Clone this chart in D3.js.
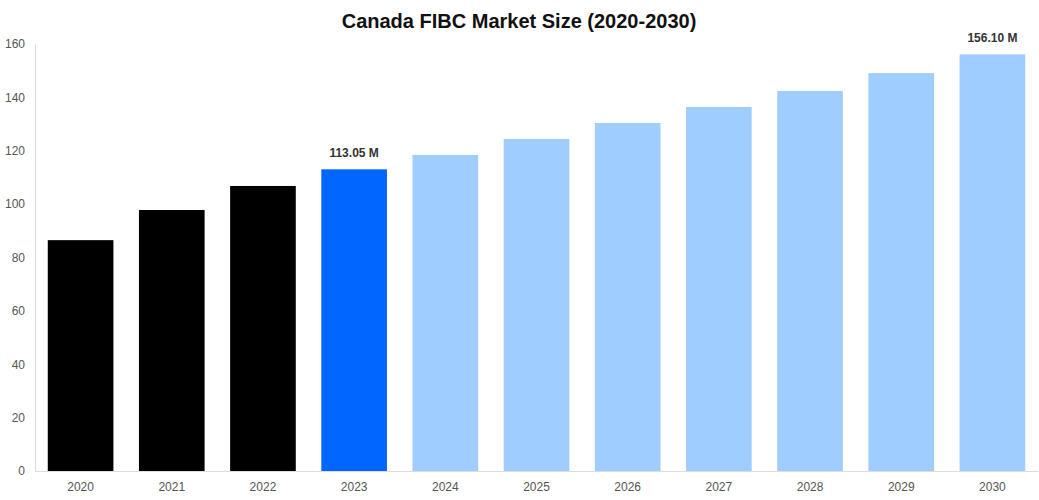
<!DOCTYPE html>
<html><head><meta charset="utf-8">
<script src="https://cdn.jsdelivr.net/npm/d3@7/dist/d3.min.js"></script>
<style>body{margin:0;background:#fff;font-family:"Liberation Sans",Arial,sans-serif}</style>
</head><body><svg id="c" width="1039" height="500"></svg>
<script>
const years=["2020","2021","2022","2023","2024","2025","2026","2027","2028","2029","2030"];
const values=[86.5,97.8,106.8,113.05,118.4,124.4,130.4,136.4,142.4,149.1,156.1];
const colors=["#000000","#000000","#000000","#0066ff","#a0cdff","#a0cdff","#a0cdff","#a0cdff","#a0cdff","#a0cdff","#a0cdff"];
const labels={"2023":"113.05 M","2030":"156.10 M"};
const yTicks=[0,20,40,60,80,100,120,140,160];
const svg=d3.select("#c");
const m={l:35,r:1,t:44,b:29};
const W=1039,H=500;
const x=d3.scaleBand().domain(years).range([m.l,W-m.r]).paddingInner(0.28).paddingOuter(0.14);
const y=d3.scaleLinear().domain([0,160]).range([H-m.b,m.t]);
svg.append("text").attr("x",519).attr("y",28).attr("text-anchor","middle").attr("font-size",20).attr("font-weight","bold").attr("fill","#111").text("Canada FIBC Market Size (2020-2030)");
const ya=svg.append("g").attr("transform",`translate(${m.l},0)`).call(d3.axisLeft(y).tickValues(yTicks).tickSize(0).tickPadding(10));
ya.select(".domain").attr("stroke","#ddd");
ya.selectAll("text").attr("font-size",12).attr("fill","#555").attr("font-family","Liberation Sans,Arial");
const xa=svg.append("g").attr("transform",`translate(0,${H-m.b})`).call(d3.axisBottom(x).tickSize(0).tickPadding(11));
xa.select(".domain").attr("stroke","#ddd");
xa.selectAll("text").attr("font-size",12).attr("fill","#555").attr("font-family","Liberation Sans,Arial");
svg.selectAll("rect.b").data(years).enter().append("rect").attr("x",d=>x(d)).attr("width",x.bandwidth())
 .attr("y",(d,i)=>y(values[i])).attr("height",(d,i)=>y(0)-y(values[i])).attr("fill",(d,i)=>colors[i]);
svg.selectAll("text.l").data(years.filter(d=>labels[d])).enter().append("text")
 .attr("x",d=>x(d)+x.bandwidth()/2).attr("y",d=>y(values[years.indexOf(d)])-12).attr("text-anchor","middle")
 .attr("font-size",12).attr("font-weight","bold").attr("fill","#333").text(d=>labels[d]);
</script></body></html>
